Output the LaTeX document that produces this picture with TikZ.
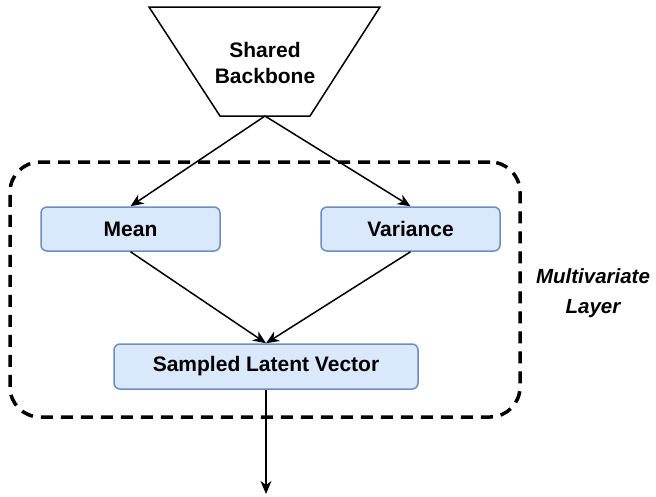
\documentclass[tikz,border=0pt]{standalone}
\usepackage{fontspec}
\setmainfont{Liberation Sans}
\usetikzlibrary{arrows.meta}
\definecolor{blkfill}{HTML}{DAE8FC}
\definecolor{blkline}{HTML}{6C8EBF}
\tikzset{
  blk/.style={draw=blkline, fill=blkfill, line width=1.5pt, rounded corners=6pt,
    inner sep=0pt, minimum height=44pt},
  arr/.style={line width=1.5pt, -{Stealth[length=13pt, width=11pt, inset=4pt]}},
  groupbox/.style={draw, line width=3.5pt, dash pattern=on 12pt off 8pt,
    rounded corners=30pt, inner sep=0pt},
  shape line/.style={line width=1.5pt, line join=miter}
}
\begin{document}
\begin{tikzpicture}[x=1pt, y=-1pt, font=\fontsize{21}{26}\selectfont\bfseries]
\useasboundingbox (0,0) rectangle (656,496);

% dashed group around the multivariate layer
\node[groupbox, minimum width=510pt, minimum height=255pt] (layer) at (265,289.5) {};
\node[align=center, font=\fontsize{20.5}{30}\selectfont\bfseries\itshape] (layerlabel)
  at (593,293) {Multivariate\\Layer};

% shared backbone as an inverted trapezoid
\draw[shape line, fill=white] (149,7) -- (380,7) -- (310,116) -- (220,116) -- cycle;
\node[align=center] (backbone) at (265,63) {Shared\\Backbone};
\coordinate (bbout) at (265,116);

% layer blocks
\node[blk, minimum width=179pt] (mean) at (130.5,229) {Mean};
\node[blk, minimum width=179pt] (var) at (410.5,229) {Variance};
\node[blk, minimum width=304pt, minimum height=45pt] (slv) at (266,366.5) {Sampled Latent Vector};
\coordinate (out) at (266,494);

% connectors
\draw[arr] (bbout) -- (mean.north);
\draw[arr] (bbout) -- (var.north);
\draw[arr] (mean.south) -- (slv.north);
\draw[arr] (var.south) -- (slv.north);
\draw[arr] (slv.south) -- (out);
\end{tikzpicture}
\end{document}
